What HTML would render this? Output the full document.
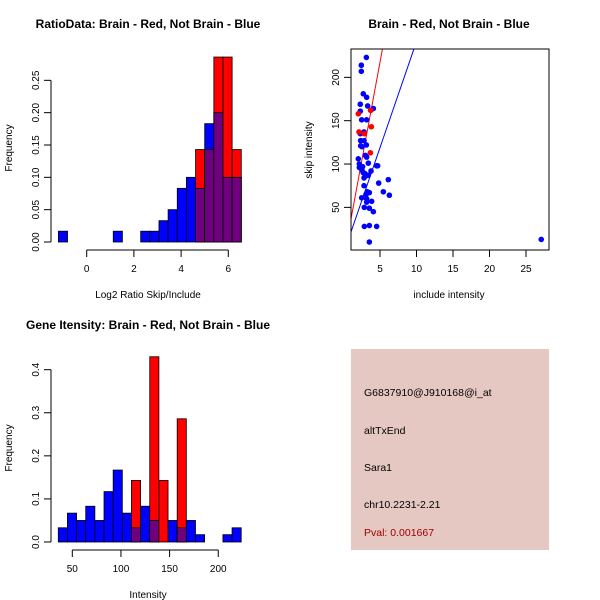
<!DOCTYPE html>
<html><head><meta charset="utf-8"><style>
body{margin:0;background:#fff}
svg{display:block;font-family:"Liberation Sans",sans-serif}
</style></head><body>
<svg id="c" width="600" height="600" viewBox="0 0 600 600"></svg>
<script>
// ---- Panel 1: ratio histogram ----
const ratioBinStart = -1.2, ratioBinWidth = 0.3875;
const ratioBlue = [0.0167,0,0,0,0,0,0.0167,0,0,0.0167,0.0167,0.033,0.05,0.083,0.1,0.083,0.183,0.2,0.1,0.1];
const ratioRed  = [0,0,0,0,0,0,0,0,0,0,0,0,0,0,0,0.143,0.143,0.286,0.286,0.143];
const ratioXTicks = [0,2,4,6];
const ratioYTicks = [0,0.05,0.10,0.15,0.20,0.25];
const ratioYLabels = ["0.00","0.05","0.10","0.15","0.20","0.25"];
// ---- Panel 2: scatter ----
const blueX = [3.13,2.44,2.44,2.71,3.17,2.30,3.31,4.09,2.30,3.72,2.49,3.17,2.81,2.30,2.35,2.81,2.35,2.53,3.13,2.99,3.17,3.40,2.03,2.17,2.17,2.62,2.94,3.40,3.77,4.54,4.68,2.81,4.82,6.14,3.26,3.54,3.08,2.49,3.17,5.46,6.28,3.17,3.86,2.85,3.54,4.09,2.85,3.54,4.54,3.54,27.09,2.81,2.71,2.53,2.99];
const blueY = [223,214,207,181,177,169,167,164,161,162,151,151,137,135,127,127,121,120,122,110,108,101,106,100,96,97,89,87,92,98,98,75,78,82,68,67,65,61,60,68,64,56,57,50,49,45,28,29,28,10,13,84,90,93,86];
const redX  = [2.03,2.12,3.72,3.81,3.68,2.85];
const redY  = [158,137,162,143,113,135];
const redLine = [-10,45.5];   // intercept, slope
const blueLine = [-3.6,24.5];
const scatXTicks = [5,10,15,20,25];
const scatYTicks = [50,100,150,200];
// ---- Panel 3: intensity histogram ----
const intBinStart = 35.6, intBinWidth = 9.4;
const intBlue = [0.033,0.067,0.05,0.083,0.05,0.117,0.167,0.067,0.033,0.083,0.05,0,0.05,0.033,0.05,0.017,0,0,0.017,0.033];
const intRed  = [0,0,0,0,0,0,0,0,0.143,0,0.43,0.143,0,0.286,0,0,0,0,0,0];
const intXTicks = [50,100,150,200];
const intYTicks = [0,0.1,0.2,0.3,0.4];
const intYLabels = ["0.0","0.1","0.2","0.3","0.4"];
// ---- Panel 4 text ----
const infoLines = ["G6837910@J910168@i_at","altTxEnd","Sara1","chr10.2231-2.21"];
const pvalText = "Pval: 0.001667";

const svg = document.getElementById('c');
const NS = "http://www.w3.org/2000/svg";
function mk(tag, attrs, parent){const e=document.createElementNS(NS,tag);for(const k in attrs)e.setAttribute(k,attrs[k]);(parent||svg).appendChild(e);return e;}
function txt(x,y,s,size,opts,parent){const t=mk('text',Object.assign({x:x,y:y,'font-size':size,'text-anchor':'middle',fill:'#000'},opts||{}),parent);t.textContent=s;return t;}

function hist(g, blue, red, start, width, xs, ys){
  for(let i=0;i<blue.length;i++){
    const x0=xs(start+i*width), x1=xs(start+(i+1)*width);
    const b=blue[i], r=red[i], m=Math.min(b,r);
    if(b>0){const e=mk('rect',{x:x0,y:ys(b),width:x1-x0,height:ys(0)-ys(b),fill:'#0000ff',stroke:'#000','stroke-width':0.8},g);
      
      }
    if(r>0){const e=mk('rect',{x:x0,y:ys(r),width:x1-x0,height:ys(0)-ys(r),fill:'#ff0000',stroke:'#000','stroke-width':0.8},g);
      
      }
    if(m>0){const e=mk('rect',{x:x0,y:ys(m),width:x1-x0,height:ys(0)-ys(m),fill:'#70007f',stroke:'#000','stroke-width':0.8},g);
      
      }
  }
}
function yAxis(g,x,ticks,labels,ys){
  mk('line',{x1:x,x2:x,y1:ys(ticks[0]),y2:ys(ticks[ticks.length-1]),stroke:'#000'},g);
  ticks.forEach((v,i)=>{const y=ys(v);mk('line',{x1:x-7,x2:x,y1:y,y2:y,stroke:'#000'},g);
    const t=txt(x-12,y,labels[i],10,{transform:`rotate(-90 ${x-12} ${y})`},g);
    
    });
}
function xAxis(g,y,ticks,labels,xs){
  mk('line',{x1:xs(ticks[0]),x2:xs(ticks[ticks.length-1]),y1:y,y2:y,stroke:'#000'},g);
  ticks.forEach((v,i)=>{const x=xs(v);mk('line',{x1:x,x2:x,y1:y,y2:y+7,stroke:'#000'},g);
    const t=txt(x,y+22,labels[i],10,{},g);
    
    });
}

// Panel 1
{const g=mk('g',{});
 const xs=v=>86.7+v*23.6, ys=v=>242-v*646.7;
 hist(g,ratioBlue,ratioRed,ratioBinStart,ratioBinWidth,xs,ys);
 yAxis(g,51,ratioYTicks,ratioYLabels,ys);
 xAxis(g,250,ratioXTicks,ratioXTicks.map(String),xs);
 txt(148,28,"RatioData: Brain - Red, Not Brain - Blue",12,{'font-weight':'bold',},g);
 txt(148,298,"Log2 Ratio Skip/Include",10,{},g);
 txt(12,148,"Frequency",10,{transform:'rotate(-90 12 148)',},g);}

// Panel 2
{const g=mk('g',{});
 const xs=v=>343.5+v*7.3, ys=v=>250.7-v*0.8667;
 mk('clipPath',{id:'cp'},g); mk('rect',{x:351,y:49,width:198,height:201},g.lastChild);
 const xmin=1.03,xmax=28.15;
 [[redLine,'#ff0000'],[blueLine,'#0000ff']].forEach(([l,c])=>{
   const e=mk('line',{x1:xs(xmin),y1:ys(l[0]+l[1]*xmin),x2:xs(xmax),y2:ys(l[0]+l[1]*xmax),stroke:c,'stroke-width':1,'clip-path':'url(#cp)'},g);
   
   });
 blueX.forEach((x,i)=>{const e=mk('circle',{cx:xs(x),cy:ys(blueY[i]),r:2.8,fill:'#0000ff'},g);
   
   });
 redX.forEach((x,i)=>{const e=mk('circle',{cx:xs(x),cy:ys(redY[i]),r:2.8,fill:'#ff0000'},g);
   
   });
 mk('rect',{x:351,y:49,width:198,height:201,fill:'none',stroke:'#000',},g);
 scatXTicks.forEach(v=>{const x=xs(v);mk('line',{x1:x,x2:x,y1:250,y2:257,stroke:'#000'},g);
   const t=txt(x,272,String(v),10,{},g);
   
   });
 scatYTicks.forEach(v=>{const y=ys(v);mk('line',{x1:344,x2:351,y1:y,y2:y,stroke:'#000'},g);
   const t=txt(339,y,String(v),10,{transform:`rotate(-90 339 ${y})`},g);
   
   });
 txt(449,28,"Brain - Red, Not Brain - Blue",12,{'font-weight':'bold',},g);
 txt(449,298,"include intensity",10,{},g);
 txt(312,150,"skip intensity",10,{transform:'rotate(-90 312 150)',},g);}

// Panel 3
{const g=mk('g',{});
 const xs=v=>72.3+(v-50)*0.973, ys=v=>542-v*430.8;
 hist(g,intBlue,intRed,intBinStart,intBinWidth,xs,ys);
 yAxis(g,51,intYTicks,intYLabels,ys);
 xAxis(g,550,intXTicks,intXTicks.map(String),xs);
 txt(148,329,"Gene Itensity: Brain - Red, Not Brain - Blue",12,{'font-weight':'bold',},g);
 txt(148,598,"Intensity",10,{},g);
 txt(12,448,"Frequency",10,{transform:'rotate(-90 12 448)',},g);}

// Panel 4
{const g=mk('g',{});
 mk('rect',{x:351,y:349,width:198,height:201,fill:'#e6c8c2'},g);
 const ys=[396,434,471,508];
 infoLines.forEach((s,i)=>{const t=txt(364,ys[i],s,10.5,{'text-anchor':'start'},g);
   
   });
 txt(364,536,pvalText,10.5,{'text-anchor':'start',fill:'#a00000',},g);}
</script>
</body></html>
